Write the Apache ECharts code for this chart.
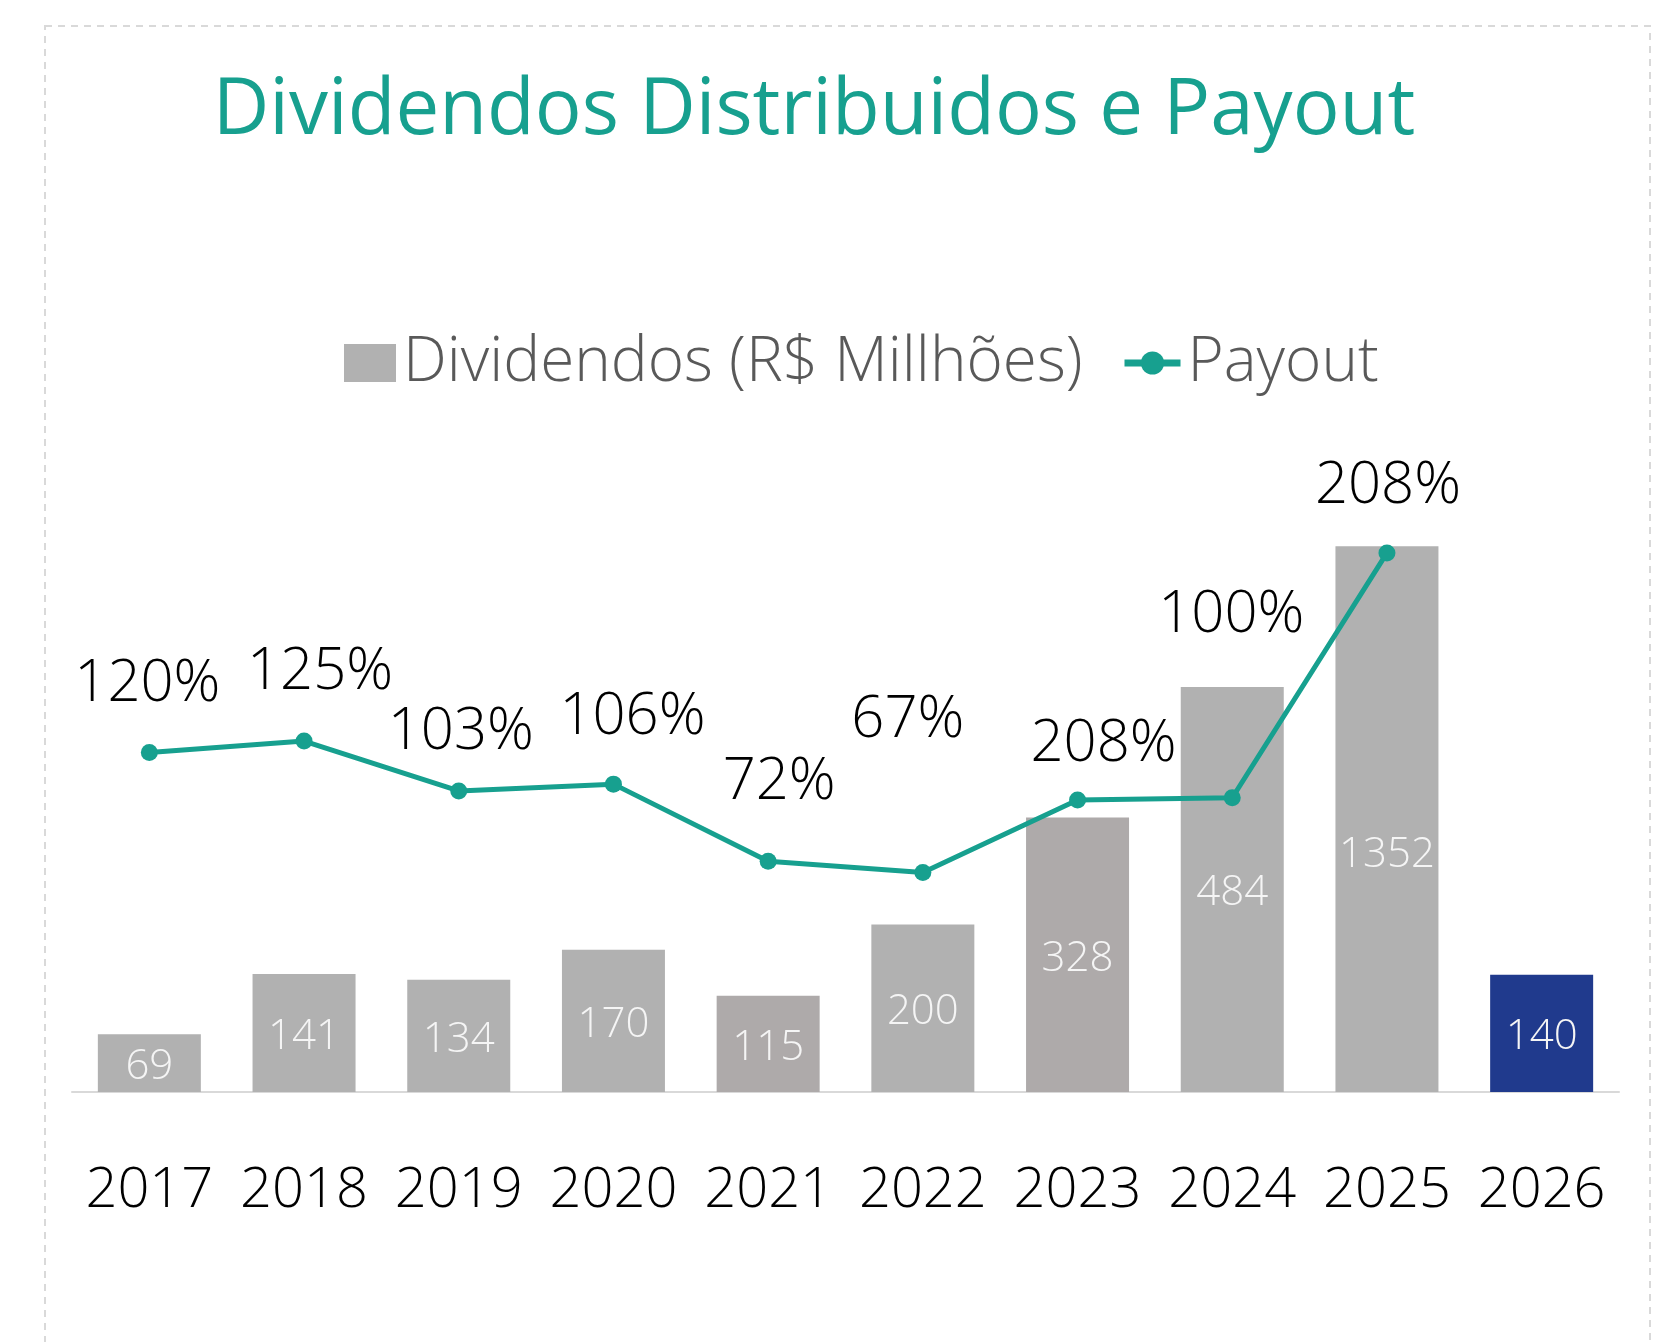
<!DOCTYPE html>
<html>
<head>
<meta charset="utf-8">
<script src="https://cdn.jsdelivr.net/npm/echarts@6/dist/echarts.min.js"></script>
<style>
html,body{margin:0;padding:0;background:#fff;}
#chart{width:1670px;height:1342px;}
</style>
</head>
<body>
<div id="chart"></div>
<script>
// ---- data ----
const categories = ['2017','2018','2019','2020','2021','2022','2023','2024','2025','2026'];
const dividendValues = [69,141,134,170,115,200,328,484,652,140];      // bar heights as drawn
const dividendLabels = ['69','141','134','170','115','200','328','484','1352','140']; // printed labels
const payoutValues = [120,125,103,106,72,67,99,100,208,null];          // line points as drawn
const payoutLabels = ['120%','125%','103%','106%','72%','67%','208%','100%','208%',''];
const seriesNames = ['Dividendos (R$ Millhões)','Payout'];
const titleText = 'Dividendos Distribuidos e Payout';

// ---- styling / layout ----
const FONT = '"Open Sans", "Noto Sans", sans-serif';
const TEAL = '#17A08F';
const barColors = ['#B1B1B1','#B1B1B1','#B1B1B1','#B1B1B1','#AEAAAA','#B1B1B1','#AEAAAA','#B1B1B1','#B1B1B1','#203A8D'];
const barLabelOffsets = [[0,4],[0,4],[0,4],[0,4],[0,4],[0,4],[0,4],[0,4],[0,36],[0,4]];
const lineLabelOffsets = [[-2,-68],[16,-69],[2,-58],[19,-67],[11,-79],[-15,-152],[26,-56],[-1,-182],[1,-66],[0,0]];

const chart = echarts.init(document.getElementById('chart'), null, {renderer:'canvas'});

const barData = dividendValues.map((v,i)=>({
  value:v,
  itemStyle:{color:barColors[i]},
  label:{offset:barLabelOffsets[i]}
}));
const lineData = payoutValues.map((v,i)=>({
  value:v,
  label:{offset:lineLabelOffsets[i]}
}));

chart.setOption({
  animation:false,
  backgroundColor:'#fff',
  graphic:[
    {type:'rect', shape:{x:45,y:26,width:1605,height:1400}, style:{fill:'none',stroke:'#D9D9D9',lineWidth:2,lineDash:[7,6]}, silent:true},
    {type:'text', x:814, y:112, style:{text:titleText, fill:TEAL, font:'400 78px '+FONT, align:'center', verticalAlign:'middle'}}
  ],
  legend:[
    {data:[seriesNames[0]], left:339, top:327, itemWidth:52, itemHeight:38, itemGap:0,
     icon:'rect', textStyle:{fontFamily:FONT, fontWeight:300, fontSize:62, color:'#595959', padding:[0,0,0,2]}},
    {data:[seriesNames[1]], left:1116, top:327, itemWidth:56, itemHeight:29, itemGap:0,
     textStyle:{fontFamily:FONT, fontWeight:300, fontSize:62, color:'#595959', padding:[0,0,0,2]},
     lineStyle:{width:7}}
  ],
  grid:{left:72, right:51, top:255, bottom:250, containLabel:false},
  xAxis:{
    type:'category', data:categories,
    axisLine:{lineStyle:{color:'#D9D9D9', width:2}},
    axisTick:{show:false},
    axisLabel:{fontFamily:FONT, fontWeight:300, fontSize:56, color:'#000', margin:71, interval:0}
  },
  yAxis:[
    {type:'value', min:0, max:1000, show:false, splitLine:{show:false}},
    {type:'value', min:-29.8, max:339.4, show:false, splitLine:{show:false}}
  ],
  series:[
    {name:seriesNames[0], type:'bar', data:barData, barWidth:103, yAxisIndex:0,
     itemStyle:{color:'#B1B1B1'},
     label:{show:true, position:'inside', color:'#F5F5F5', fontFamily:FONT, fontWeight:300, fontSize:42,
       formatter:p=>dividendLabels[p.dataIndex]}},
    {name:seriesNames[1], type:'line', data:lineData, yAxisIndex:1,
     color:TEAL, lineStyle:{color:TEAL, width:5}, itemStyle:{color:TEAL},
     symbol:'circle', symbolSize:17, showAllSymbol:true, connectNulls:false,
     label:{show:true, position:'inside', color:'#000', fontFamily:FONT, fontWeight:300, fontSize:58,
       formatter:p=>payoutLabels[p.dataIndex]}}
  ]
});
</script>
</body>
</html>
